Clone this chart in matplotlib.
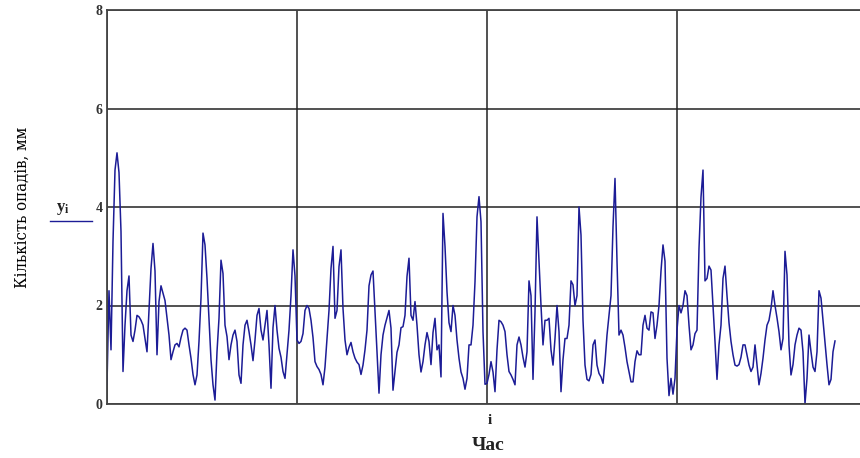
import numpy as np
import matplotlib.pyplot as plt

# daily precipitation, mm
y_vals = [
    0.4, 2.3, 1.1, 3.3, 4.75, 5.1, 4.7, 3.5, 0.66, 1.6,
    2.3, 2.6, 1.4, 1.27, 1.5, 1.8, 1.77, 1.7, 1.6, 1.33,
    1.06, 1.9, 2.75, 3.26, 2.7, 1.0, 2.08, 2.4, 2.25, 2.1,
    1.74, 1.4, 0.9, 1.06, 1.2, 1.23, 1.16, 1.35, 1.5, 1.54,
    1.5, 1.2, 0.93, 0.6, 0.39, 0.59, 1.27, 2.15, 3.47, 3.23,
    2.55, 1.74, 0.9, 0.39, 0.08, 1.06, 1.74, 2.92, 2.65, 1.6,
    1.37, 0.9, 1.2, 1.4, 1.5, 1.27, 0.59, 0.42, 1.2, 1.6,
    1.7, 1.47, 1.2, 0.88, 1.3, 1.8, 1.94, 1.5, 1.3, 1.6,
    1.9, 1.2, 0.32, 1.55, 2.0, 1.5, 1.13, 0.95, 0.66, 0.52,
    1.0, 1.5, 2.2, 3.13, 2.6, 1.3, 1.23, 1.27, 1.43, 1.9,
    2.0, 1.94, 1.7, 1.35, 0.86, 0.76, 0.7, 0.6, 0.39, 0.75,
    1.33, 1.9, 2.75, 3.2, 1.74, 1.9, 2.79, 3.13, 1.94, 1.3,
    1.0, 1.15, 1.25, 1.06, 0.93, 0.85, 0.8, 0.6, 0.79, 1.1,
    1.5, 2.4, 2.62, 2.7, 1.9, 1.06, 0.22, 1.0, 1.4, 1.6,
    1.75, 1.9, 1.54, 0.28, 0.66, 1.05, 1.2, 1.55, 1.57, 1.8,
    2.59, 2.96, 1.8, 1.7, 2.08, 1.6, 1.0, 0.65, 0.86, 1.2,
    1.45, 1.27, 0.8, 1.45, 1.74, 1.1, 1.2, 0.55, 3.87, 3.2,
    2.28, 1.65, 1.47, 2.0, 1.8, 1.3, 0.93, 0.65, 0.52, 0.3,
    0.52, 1.2, 1.2, 1.6, 2.48, 3.8, 4.21, 3.7, 1.47, 0.4,
    0.42, 0.6, 0.86, 0.65, 0.25, 1.1, 1.7, 1.67, 1.6, 1.47,
    1.0, 0.66, 0.59, 0.5, 0.39, 1.2, 1.36, 1.2, 0.95, 0.75,
    1.06, 2.5, 2.2, 0.5, 1.87, 3.8, 2.89, 2.0, 1.2, 1.7,
    1.7, 1.74, 1.1, 0.79, 1.33, 2.0, 1.47, 0.25, 0.9, 1.33,
    1.33, 1.6, 2.5, 2.42, 2.0, 2.2, 4.0, 3.43, 1.7, 0.79,
    0.5, 0.47, 0.6, 1.2, 1.3, 0.79, 0.62, 0.55, 0.42, 0.85,
    1.4, 1.8, 2.2, 3.6, 4.58, 2.9, 1.4, 1.5, 1.4, 1.15,
    0.86, 0.65, 0.45, 0.45, 0.86, 1.08, 1.0, 1.0, 1.6, 1.8,
    1.54, 1.5, 1.87, 1.85, 1.33, 1.6, 2.0, 2.7, 3.23, 2.9,
    0.93, 0.17, 0.52, 0.2, 0.52, 1.5, 2.0, 1.85, 2.0, 2.3,
    2.2, 1.6, 1.1, 1.2, 1.43, 1.5, 3.16, 4.2, 4.75, 2.5,
    2.55, 2.8, 2.72, 2.0, 1.27, 0.5, 1.2, 1.6, 2.55, 2.8,
    2.2, 1.65, 1.27, 1.0, 0.79, 0.77, 0.8, 0.95, 1.2, 1.2,
    1.0, 0.79, 0.66, 0.75, 1.2, 0.8, 0.39, 0.62, 0.93, 1.3,
    1.6, 1.7, 1.94, 2.3, 2.0, 1.75, 1.47, 1.1, 1.33, 3.1,
    2.62, 1.2, 0.59, 0.8, 1.2, 1.4, 1.54, 1.5, 1.06, 0.01,
    0.52, 1.4, 1.06, 0.75, 0.66, 1.06, 2.3, 2.15, 1.7, 1.27,
    0.8, 0.39, 0.5, 1.06, 1.28,
]
y_ticks = [0, 2, 4, 6, 8]
x_max = 380

days = np.arange(len(y_vals))

fig = plt.figure(figsize=(8.6, 4.58), dpi=100)
ax = fig.add_axes([107 / 860, 54 / 458, 760 / 860, 394 / 458])

ax.plot(days, y_vals, color='#1c1c96', linewidth=1.1)

ax.set_xlim(0, x_max)
ax.set_ylim(0, 8)
ax.set_xticks(np.linspace(0, x_max, 5))
ax.set_xticklabels([])
ax.set_yticks(y_ticks)
ax.set_yticklabels([str(t) for t in y_ticks], family='Liberation Serif',
                   fontsize=10, fontweight='bold', color='#333333')
ax.tick_params(length=0, pad=3)
ax.grid(True, color='#222222', linewidth=1.1)
ax.set_axisbelow(True)
ax.spines['right'].set_visible(False)
for side in ['left', 'top', 'bottom']:
    ax.spines[side].set_color('#444444')
    ax.spines[side].set_linewidth(1.3)

# Mathcad style axis labels
fig.text(22 / 860, 1 - 207 / 458, 'Кількість опадів, мм', rotation=90,
         ha='center', va='center', family='DejaVu Serif', fontstretch='condensed',
         fontsize=12)
fig.text(63 / 860, 1 - 209 / 458, r'$\mathregular{y_i}$', ha='center', va='center',
         family='Liberation Serif', fontsize=12, fontweight='bold', color='#222222')
fig.add_artist(plt.Line2D([50 / 860, 92 / 860], [1 - 221 / 458, 1 - 221 / 458],
                          color='#1c1c96', linewidth=1.0))
fig.text(490 / 860, 1 - 421 / 458, 'i', ha='center', va='center',
         family='Liberation Serif', fontsize=11, fontweight='bold', color='#222222')
fig.text(488 / 860, 1 - 446 / 458, 'Час', ha='center', va='center',
         family='Liberation Serif', fontsize=14, fontweight='bold', color='#222222')

fig.savefig('out.png', dpi=100)
